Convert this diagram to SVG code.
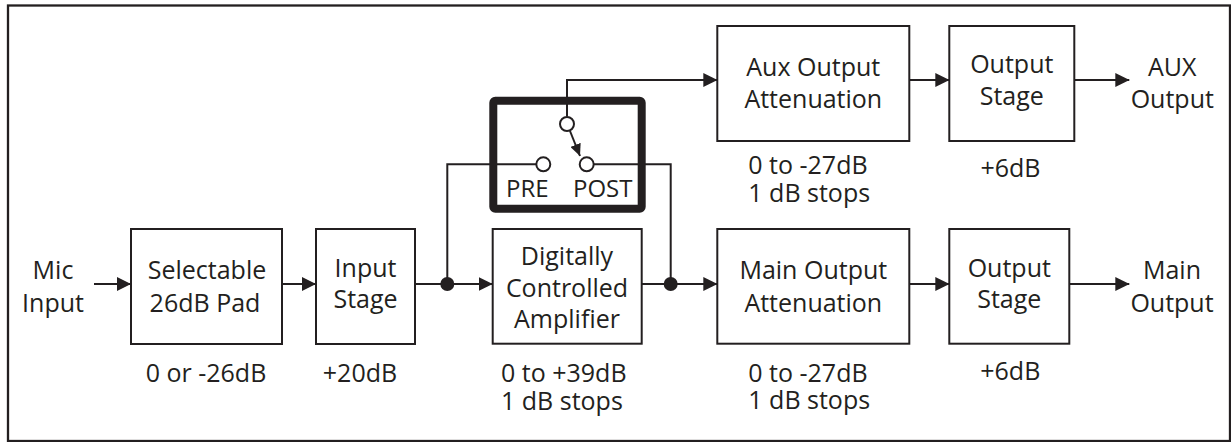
<svg xmlns="http://www.w3.org/2000/svg" width="1231" height="442" viewBox="0 0 1231 442">
<style>
.box{fill:#fff;stroke:#231f20;stroke-width:2}
.ln{fill:none;stroke:#231f20;stroke-width:2}
.t{font-family:'Open Sans','DejaVu Sans',sans-serif;font-size:25px;fill:#231f20}
.c{text-anchor:middle}
.dot{fill:#231f20}
.sw{fill:#fff;stroke:#231f20;stroke-width:2}
</style>
<defs>
<marker id="ah" markerUnits="userSpaceOnUse" markerWidth="14" markerHeight="14" refX="14" refY="7" orient="auto">
<path d="M0,0 L14,7 L0,14 z" fill="#231f20"/>
</marker>
<marker id="ahs" markerUnits="userSpaceOnUse" markerWidth="12" markerHeight="11" refX="12" refY="5.5" orient="auto">
<path d="M0,0 L12,5.5 L0,11 z" fill="#231f20"/>
</marker>
</defs>
<rect x="8" y="5.5" width="1222" height="435.5" fill="#fff" stroke="#231f20" stroke-width="2.3"/>

<g id="connectors">
<path class="ln" d="M94,284 H131" marker-end="url(#ah)"/>
<path class="ln" d="M282,284 H316" marker-end="url(#ah)"/>
<path class="ln" d="M415,284 H492.7" marker-end="url(#ah)"/>
<path class="ln" d="M447.3,284 V164.3 H536"/>
<path class="ln" d="M641.7,284 H717.3" marker-end="url(#ah)"/>
<path class="ln" d="M594,164.3 H670.7 V284"/>
<path class="ln" d="M567,116.5 V80 H717.3" marker-end="url(#ah)"/>
<path class="ln" d="M570,131 L580,156" marker-end="url(#ahs)"/>
<path class="ln" d="M909.3,80 H949.3" marker-end="url(#ah)"/>
<path class="ln" d="M1074.3,80 H1129.3" marker-end="url(#ah)"/>
<path class="ln" d="M909.3,284 H949.3" marker-end="url(#ah)"/>
<path class="ln" d="M1069.3,284 H1129.3" marker-end="url(#ah)"/>
<circle class="dot" cx="447.3" cy="284" r="7"/>
<circle class="dot" cx="670.7" cy="284" r="7"/>
</g>

<g id="mic-input">
<text class="t c" x="53" y="279.3">Mic</text>
<text class="t c" x="53" y="311.7">Input</text>
</g>

<g id="pad">
<rect class="box" x="131" y="229" width="151" height="115"/>
<text class="t c" x="207" y="279.3">Selectable</text>
<text class="t c" x="205" y="311.7">26dB Pad</text>
<text class="t c" x="206" y="381.7">0 or -26dB</text>
</g>

<g id="input-stage">
<rect class="box" x="316" y="229" width="99" height="115"/>
<text class="t c" x="365.5" y="276.7">Input</text>
<text class="t c" x="365.5" y="308.3">Stage</text>
<text class="t c" x="360" y="381.7">+20dB</text>
</g>

<g id="dca">
<rect class="box" x="492.7" y="229" width="149" height="114.7"/>
<text class="t c" x="567" y="265">Digitally</text>
<text class="t c" x="567" y="296.5">Controlled</text>
<text class="t c" x="567" y="328.3">Amplifier</text>
<text class="t" x="501" y="381.7">0 to +39dB</text>
<text class="t" x="501" y="410">1 dB stops</text>
</g>

<g id="switch">
<rect x="493.3" y="100.7" width="148.4" height="108" rx="2" fill="none" stroke="#231f20" stroke-width="8"/>
<circle class="sw" cx="567" cy="124" r="7"/>
<circle class="sw" cx="543.3" cy="164.3" r="7"/>
<circle class="sw" cx="586.7" cy="164.3" r="7"/>
<text class="t" x="506" y="196.7" style="font-size:24px">PRE</text>
<text class="t" x="573" y="196.7" style="font-size:24px">POST</text>
</g>

<g id="aux-atten">
<rect class="box" x="717.3" y="26" width="192" height="115"/>
<text class="t c" x="813.3" y="76">Aux Output</text>
<text class="t c" x="813.3" y="107.7">Attenuation</text>
<text class="t" x="748.3" y="174">0 to -27dB</text>
<text class="t" x="748.3" y="202.3">1 dB stops</text>
</g>

<g id="aux-stage">
<rect class="box" x="949.3" y="26" width="125" height="115"/>
<text class="t c" x="1011.8" y="73.3">Output</text>
<text class="t c" x="1011.8" y="105">Stage</text>
<text class="t c" x="1010.5" y="176.7">+6dB</text>
</g>

<g id="aux-output">
<text class="t c" x="1172.3" y="76">AUX</text>
<text class="t c" x="1172.3" y="107.7">Output</text>
</g>

<g id="main-atten">
<rect class="box" x="717.3" y="229" width="192" height="114.7"/>
<text class="t c" x="813.3" y="279.3">Main Output</text>
<text class="t c" x="813.3" y="311.7">Attenuation</text>
<text class="t" x="748.3" y="381.7">0 to -27dB</text>
<text class="t" x="748.3" y="409.3">1 dB stops</text>
</g>

<g id="main-stage">
<rect class="box" x="949.3" y="229" width="120" height="114.7"/>
<text class="t c" x="1009.3" y="276.7">Output</text>
<text class="t c" x="1009.3" y="308.3">Stage</text>
<text class="t c" x="1010.3" y="380">+6dB</text>
</g>

<g id="main-output">
<text class="t c" x="1172" y="279.3">Main</text>
<text class="t c" x="1172" y="311.7">Output</text>
</g>
</svg>
